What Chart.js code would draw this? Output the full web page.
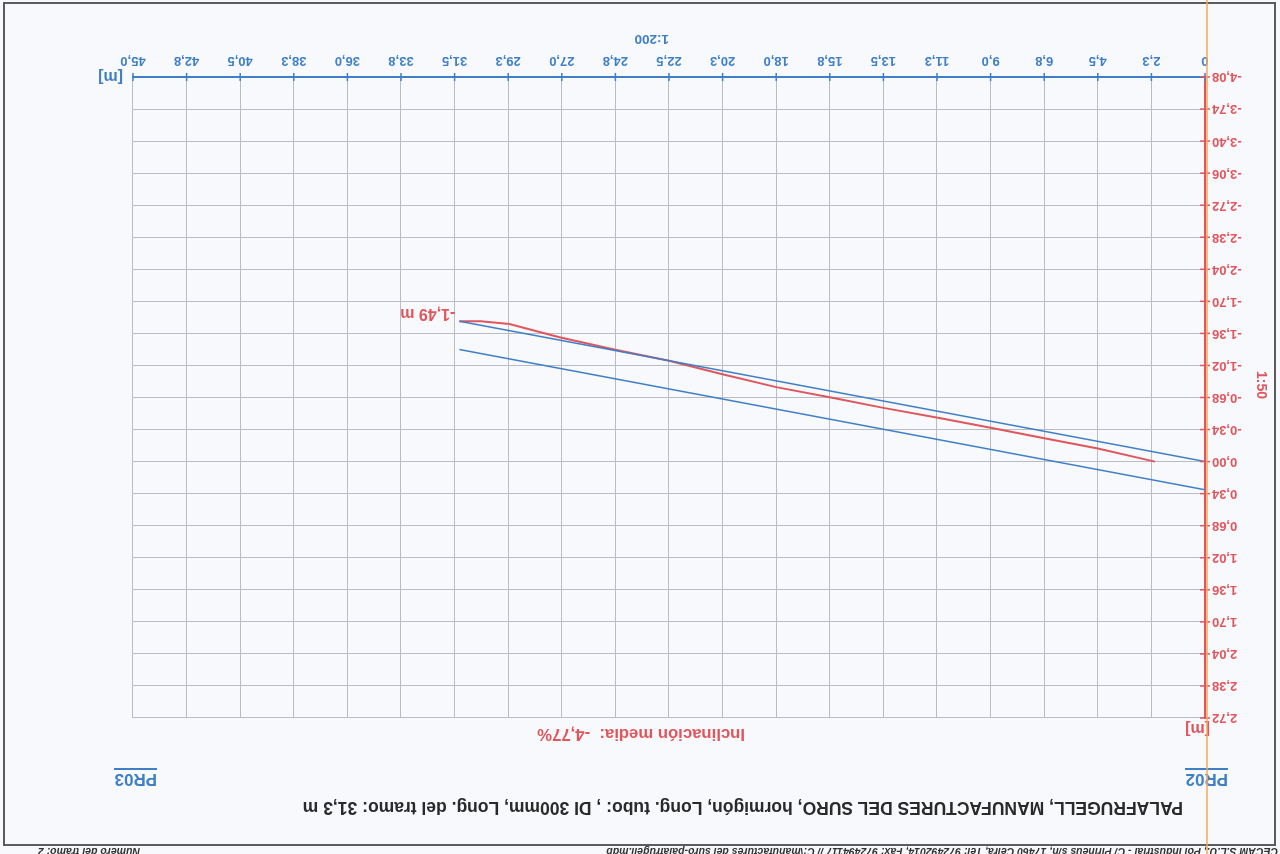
<!DOCTYPE html>
<html>
<head>
<meta charset="utf-8">
<script src="https://cdn.jsdelivr.net/npm/chart.js@4"></script>
<style>
  html, body { margin: 0; padding: 0; background: #f7f9fc; }
  #page {
    position: relative; width: 1280px; height: 854px; overflow: hidden;
    background: #f7f9fc; transform: rotate(180deg);
    font-family: "Liberation Sans", Arial, sans-serif;
  }
  #frame {
    position: absolute; left: 4px; top: 8px; width: 1273px; height: 844px;
    border: 2px solid #5c5c5c; box-sizing: border-box;
  }
  #myChart { position: absolute; left: 0; top: 0; }
  .txt { position: absolute; white-space: nowrap; font-weight: bold; }
</style>
</head>
<body>
<div id="page">
  <div id="frame"></div>
  <div class="txt" style="left:2px;top:-4px;font-size:10.5px;font-style:italic;color:#333;">CECAM S.L.U., Pol Industrial - C/ Pirineus s/n, 17460 Celrà, Tel: 972492014, Fax: 972494117 // C:\manufactures del suro-palafrugell.mdb</div>
  <div class="txt" style="left:1140px;top:-4px;font-size:10.5px;font-style:italic;color:#333;">Número del tramo: 2</div>
  <div class="txt" style="left:97px;top:36px;font-size:17.5px;line-height:20px;color:#2a2a2a;">PALAFRUGELL, MANUFACTURES DEL SURO, hormigón, Long. tubo: , DI 300mm, Long. del tramo: 31,3 m</div>
  <div class="txt" style="left:52px;top:66px;font-size:17px;line-height:18px;color:#3f7fc8;border-bottom:2px solid #3f7fc8;">PR02</div>
  <div class="txt" style="left:1123px;top:66px;font-size:17px;line-height:18px;color:#3f7fc8;border-bottom:2px solid #3f7fc8;">PR03</div>
  <div class="txt" style="left:535px;top:111px;font-size:16.7px;line-height:18px;color:#e0565c;">Inclinación media:&nbsp;&nbsp;-4,77%</div>
  <div class="txt" style="left:70px;top:116px;font-size:16px;line-height:18px;color:#e0565c;">[m]</div>
  <div class="txt" style="left:1157px;top:768px;font-size:16px;line-height:18px;color:#3f7fc8;">[m]</div>
  <div class="txt" style="left:611px;top:807px;font-size:13.5px;line-height:16px;color:#3f7fc8;">1:200</div>
  <div class="txt" style="left:-4px;top:461px;width:44px;text-align:center;font-size:14px;line-height:16px;color:#e0565c;transform:rotate(-90deg);">1:50</div>
  <canvas id="myChart" width="1280" height="854"></canvas>
</div>
<script>
const xTickValues = [0, 2.25, 4.5, 6.75, 9, 11.25, 13.5, 15.75, 18, 20.25, 22.5, 24.75, 27, 29.25, 31.5, 33.75, 36, 38.25, 40.5, 42.75, 45];
const xTickLabels = ["0", "2,3", "4,5", "6,8", "9,0", "11,3", "13,5", "15,8", "18,0", "20,3", "22,5", "24,8", "27,0", "29,3", "31,5", "33,8", "36,0", "38,3", "40,5", "42,8", "45,0"];
const yTickValues = [-4.08, -3.74, -3.4, -3.06, -2.72, -2.38, -2.04, -1.7, -1.36, -1.02, -0.68, -0.34, 0, 0.34, 0.68, 1.02, 1.36, 1.7, 2.04, 2.38, 2.72];
const yTickLabels = ["-4,08", "-3,74", "-3,40", "-3,06", "-2,72", "-2,38", "-2,04", "-1,70", "-1,36", "-1,02", "-0,68", "-0,34", "0,00", "0,34", "0,68", "1,02", "1,36", "1,70", "2,04", "2,38", "2,72"];

// measured profile (red)
const profileX = [2.1, 4.5, 6.8, 9.0, 11.1, 13.5, 15.7, 18.0, 20.3, 22.5, 24.8, 27.1, 29.2, 30.4, 31.3];
const profileY = [0, -0.14, -0.25, -0.36, -0.46, -0.57, -0.68, -0.79, -0.93, -1.07, -1.19, -1.32, -1.46, -1.49, -1.49];

// pipe (blue), top and bottom
const pipeX = [0, 31.3];
const pipeTop = [0, -1.49];
const pipeBottom = [0.3, -1.19];

const blue = "#3f7fc8";
const red = "#e0565c";
const orange = "#f4a85a";
const gridGray = "#b9bcc2";

function toPoints(xs, ys) {
  return xs.map((x, i) => ({ x: x, y: ys[i] }));
}

const extras = {
  id: "extras",
  afterDatasetsDraw(chart) {
    const { ctx, chartArea } = chart;
    const x = chart.scales.x;
    const y = chart.scales.y;
    ctx.save();
    ctx.lineWidth = 1.5;
    ctx.strokeStyle = blue;
    xTickValues.forEach(v => {
      const px = x.getPixelForValue(v);
      ctx.beginPath();
      ctx.moveTo(px, chartArea.bottom - 4);
      ctx.lineTo(px, chartArea.bottom + 4);
      ctx.stroke();
    });
    ctx.strokeStyle = red;
    yTickValues.forEach(v => {
      const py = y.getPixelForValue(v);
      ctx.beginPath();
      ctx.moveTo(chartArea.left - 5, py);
      ctx.lineTo(chartArea.left + 5, py);
      ctx.stroke();
    });
    // orange line at x = 0, whole page height
    const ox = x.getPixelForValue(0) - 2;
    ctx.strokeStyle = orange;
    ctx.lineWidth = 1.5;
    ctx.beginPath();
    ctx.moveTo(ox, 0);
    ctx.lineTo(ox, chart.height);
    ctx.stroke();
    // end depth label
    const last = profileY.length - 1;
    const lx = x.getPixelForValue(profileX[last]);
    const ly = y.getPixelForValue(profileY[last]);
    ctx.fillStyle = red;
    ctx.font = "bold 16px 'Liberation Sans', Arial, sans-serif";
    ctx.textAlign = "left";
    ctx.textBaseline = "middle";
    ctx.fillText(profileY[last].toFixed(2).replace(".", ",") + " m", lx + 4, ly + 8);
    ctx.restore();
  }
};

const ctx = document.getElementById("myChart");

new Chart(ctx, {
  type: "line",
  data: {
    datasets: [
      {
        data: toPoints(pipeX, pipeTop),
        borderColor: blue,
        borderWidth: 1.5,
        pointRadius: 0,
      },
      {
        data: toPoints(pipeX, pipeBottom),
        borderColor: blue,
        borderWidth: 1.5,
        pointRadius: 0,
      },
      {
        data: toPoints(profileX, profileY),
        borderColor: red,
        borderWidth: 2,
        pointRadius: 0,
      },
    ],
  },
  options: {
    responsive: false,
    animation: false,
    layout: { padding: { left: 0, top: 136, right: 133, bottom: 0 } },
    plugins: { legend: { display: false }, tooltip: { enabled: false } },
    scales: {
      x: {
        type: "linear",
        min: 0,
        max: 45,
        afterBuildTicks: s => { s.ticks = xTickValues.map(v => ({ value: v })); },
        afterFit: s => { s.height = 77; },
        ticks: {
          autoSkip: false,
          maxRotation: 0,
          padding: 9,
          color: blue,
          font: { family: "'Liberation Sans', Arial, sans-serif", size: 13, weight: "bold" },
          callback: (v, i) => xTickLabels[i],
        },
        grid: { color: gridGray, lineWidth: 1, drawTicks: false },
        border: { color: blue, width: 2 },
      },
      y: {
        type: "linear",
        min: -4.08,
        max: 2.72,
        afterBuildTicks: s => { s.ticks = yTickValues.map(v => ({ value: v })); },
        afterFit: s => { s.width = 75; },
        ticks: {
          autoSkip: false,
          padding: 7,
          color: red,
          font: { family: "'Liberation Sans', Arial, sans-serif", size: 13, weight: "bold" },
          callback: (v, i) => yTickLabels[i],
        },
        grid: { color: gridGray, lineWidth: 1, drawTicks: false },
        border: { color: red, width: 2 },
      },
    },
  },
  plugins: [extras],
});
</script>
</body>
</html>
